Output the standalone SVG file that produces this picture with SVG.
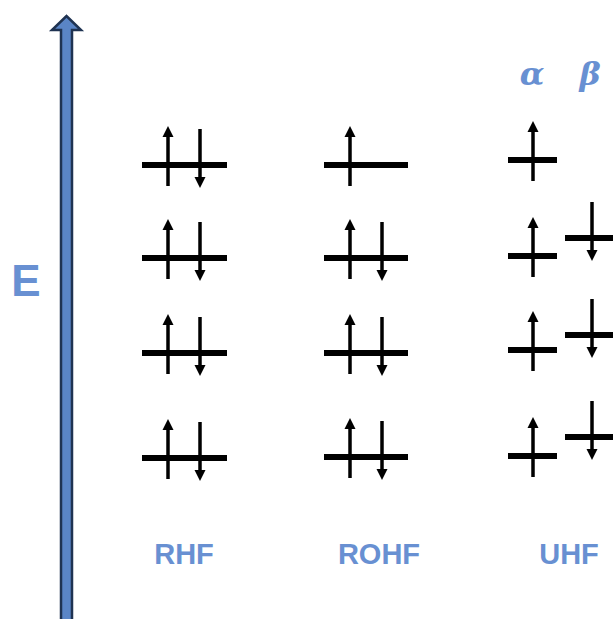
<svg xmlns="http://www.w3.org/2000/svg" xmlns:xlink="http://www.w3.org/1999/xlink" width="613" height="619" viewBox="0 0 613 619">
  <style>
    .lbl { font-family: "Liberation Sans", Arial, sans-serif; font-weight: bold; fill: #6890D2; }
    .spin { font-family: "DejaVu Serif", "Liberation Serif", serif; font-weight: bold; font-style: italic; fill: #6890D2; }
    .bar { stroke: #000; stroke-width: 6; }
    .shaft { stroke: #000; stroke-width: 3.5; }
  </style>
  <defs>
    <!-- spin-up electron, origin at the orbital line crossing -->
    <g id="up">
      <line class="shaft" x1="0" y1="-29" x2="0" y2="21"/>
      <path d="M-5.5,-28 L0,-39 L5.5,-28 Z" fill="#000"/>
    </g>
    <!-- spin-down electron -->
    <g id="dn">
      <line class="shaft" x1="0" y1="-36" x2="0" y2="13"/>
      <path d="M-5.5,12 L0,23 L5.5,12 Z" fill="#000"/>
    </g>
  </defs>
  <rect width="613" height="619" fill="#fff"/>

  <!-- energy axis -->
  <g id="energy-axis">
    <path d="M61,622 L61,30 L52,30 L66.5,16 L81,30 L72,30 L72,622 Z" fill="#5A85C6" stroke="#1F3352" stroke-width="2.5" stroke-linejoin="miter"/>
    <text class="lbl" x="26" y="296" font-size="44" text-anchor="middle">E</text>
  </g>

  <!-- RHF: closed-shell, doubly occupied orbitals -->
  <g id="rhf">
    <g id="rhf-1"><line class="bar" x1="142" y1="165" x2="227" y2="165"/><use xlink:href="#up" x="168" y="165"/><use xlink:href="#dn" x="200" y="165"/></g>
    <g id="rhf-2"><line class="bar" x1="142" y1="258" x2="227" y2="258"/><use xlink:href="#up" x="168" y="258"/><use xlink:href="#dn" x="200" y="258"/></g>
    <g id="rhf-3"><line class="bar" x1="142" y1="353" x2="227" y2="353"/><use xlink:href="#up" x="168" y="353"/><use xlink:href="#dn" x="200" y="353"/></g>
    <g id="rhf-4"><line class="bar" x1="142" y1="458" x2="227" y2="458"/><use xlink:href="#up" x="168" y="458"/><use xlink:href="#dn" x="200" y="458"/></g>
    <text class="lbl" x="184" y="564" font-size="29" text-anchor="middle">RHF</text>
  </g>

  <!-- ROHF: singly occupied top orbital -->
  <g id="rohf">
    <g id="rohf-1"><line class="bar" x1="324" y1="165" x2="408" y2="165"/><use xlink:href="#up" x="350" y="165"/></g>
    <g id="rohf-2"><line class="bar" x1="324" y1="258" x2="408" y2="258"/><use xlink:href="#up" x="350" y="258"/><use xlink:href="#dn" x="382" y="258"/></g>
    <g id="rohf-3"><line class="bar" x1="324" y1="353" x2="408" y2="353"/><use xlink:href="#up" x="350" y="353"/><use xlink:href="#dn" x="382" y="353"/></g>
    <g id="rohf-4"><line class="bar" x1="324" y1="457" x2="408" y2="457"/><use xlink:href="#up" x="350" y="457"/><use xlink:href="#dn" x="382" y="457"/></g>
    <text class="lbl" x="379" y="564" font-size="29" text-anchor="middle">ROHF</text>
  </g>

  <!-- UHF: separate alpha and beta orbitals -->
  <g id="uhf">
    <text class="spin" x="532" y="85" font-size="32" text-anchor="middle">α</text>
    <text class="spin" x="590" y="85" font-size="32" text-anchor="middle">β</text>
    <g id="uhf-a1"><line class="bar" x1="508" y1="160" x2="557" y2="160"/><use xlink:href="#up" x="533" y="160"/></g>
    <g id="uhf-a2"><line class="bar" x1="508" y1="256" x2="557" y2="256"/><use xlink:href="#up" x="533" y="256"/></g>
    <g id="uhf-a3"><line class="bar" x1="508" y1="350" x2="557" y2="350"/><use xlink:href="#up" x="533" y="350"/></g>
    <g id="uhf-a4"><line class="bar" x1="508" y1="456" x2="557" y2="456"/><use xlink:href="#up" x="533" y="456"/></g>
    <g id="uhf-b1"><line class="bar" x1="565" y1="238" x2="614" y2="238"/><use xlink:href="#dn" x="592" y="238"/></g>
    <g id="uhf-b2"><line class="bar" x1="565" y1="335" x2="614" y2="335"/><use xlink:href="#dn" x="592" y="335"/></g>
    <g id="uhf-b3"><line class="bar" x1="565" y1="437" x2="614" y2="437"/><use xlink:href="#dn" x="592" y="437"/></g>
    <text class="lbl" x="569" y="564" font-size="29" text-anchor="middle">UHF</text>
  </g>
</svg>
